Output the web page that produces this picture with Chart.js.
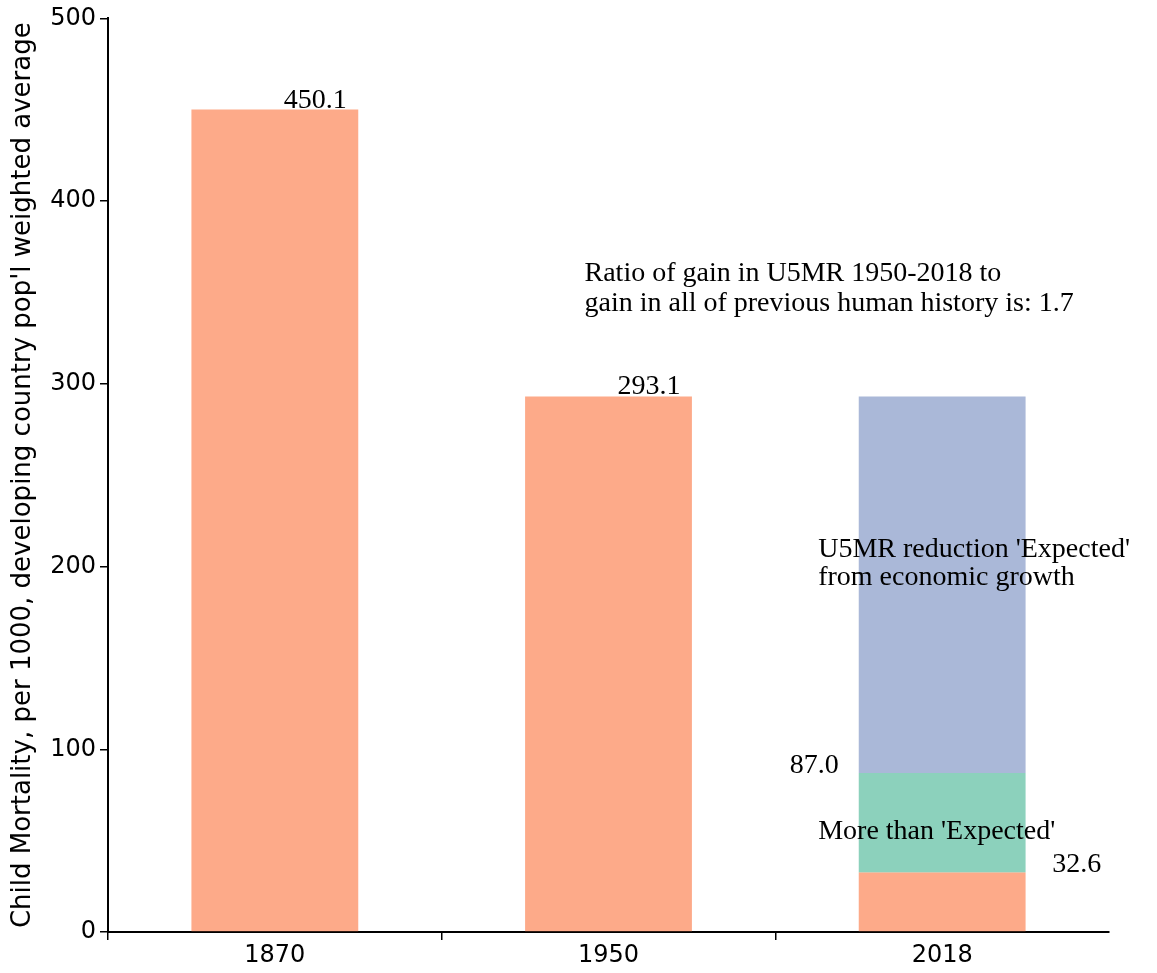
<!DOCTYPE html>
<html>
<head>
<meta charset="utf-8">
<script src="https://cdn.jsdelivr.net/npm/chart.js@4"></script>
<style>
  html, body { margin: 0; padding: 0; background: #fff; }
  #wrap { width: 1157px; height: 973px; }
</style>
</head>
<body>
<div id="wrap"><canvas id="chart"></canvas></div>
<script>
// Data
const years = ['1870', '1950', '2018'];
const actual = [450.1, 293.1, 32.6];          // orange bars (2018 = achieved level)
const expectedLevel2018 = 87.0;                // top of the green segment
const start2018 = 293.1;                       // top of the blue segment (1950 level)
const yTicks = [0, 100, 200, 300, 400, 500];
const ratioText = ['Ratio of gain in U5MR 1950-2018 to', 'gain in all of previous human history is: 1.7'];
const expectedText = ["U5MR reduction 'Expected'", 'from economic growth'];
const moreText = "More than 'Expected'";

const ORANGE = 'rgba(252, 141, 98, 0.75)';
const GREEN = 'rgba(102, 194, 165, 0.75)';
const BLUE = 'rgba(141, 160, 203, 0.75)';
const SERIF = '"Liberation Serif", "Times New Roman", serif';
const SANS = '"DejaVu Sans", Verdana, sans-serif';

// floating segments for the 2018 column
const greenData = [null, null, [actual[2], expectedLevel2018]];
const blueData = [null, null, [expectedLevel2018, start2018]];

const annotations = {
  id: 'annotations',
  afterDatasetsDraw(chart) {
    const { ctx, scales: { x, y } } = chart;
    const half = x.getPixelForValue(1) - x.getPixelForValue(0);
    ctx.save();
    ctx.fillStyle = '#000';
    ctx.font = '28px ' + SERIF;
    ctx.textBaseline = 'alphabetic';

    // value labels
    ctx.textAlign = 'left';
    ctx.fillText(actual[0].toFixed(1), x.getPixelForValue(0) + 9, y.getPixelForValue(actual[0]) - 2);
    ctx.fillText(actual[1].toFixed(1), x.getPixelForValue(1) + 9, y.getPixelForValue(actual[1]) - 2);
    ctx.textAlign = 'right';
    ctx.fillText(expectedLevel2018.toFixed(1), x.getPixelForValue(2) - half * 0.31, y.getPixelForValue(expectedLevel2018));
    ctx.textAlign = 'left';
    ctx.fillText(actual[2].toFixed(1), x.getPixelForValue(2) + half * 0.33, y.getPixelForValue(actual[2]));

    // text notes
    const xr = x.getPixelForValue(1) - 24;
    ctx.fillText(ratioText[0], xr, y.getPixelForValue(361) + 9);
    ctx.fillText(ratioText[1], xr, y.getPixelForValue(361) + 39);

    const xe = x.getPixelForValue(2) - 124;
    ctx.fillText(expectedText[0], xe, y.getPixelForValue(210) + 9);
    ctx.fillText(expectedText[1], xe, y.getPixelForValue(210) + 37);
    ctx.fillText(moreText, xe, y.getPixelForValue(56) + 9);
    ctx.restore();
  }
};

new Chart(document.getElementById('chart'), {
  type: 'bar',
  data: {
    labels: years,
    datasets: [
      { label: 'Actual', data: actual, backgroundColor: ORANGE },
      { label: "More than 'Expected'", data: greenData, backgroundColor: GREEN },
      { label: "'Expected'", data: blueData, backgroundColor: BLUE }
    ]
  },
  options: {
    responsive: true,
    maintainAspectRatio: false,
    animation: false,
    layout: { padding: { top: 18, right: 48, left: 0, bottom: 0 } },
    datasets: { bar: { categoryPercentage: 1, barPercentage: 0.5 } },
    plugins: {
      legend: { display: false },
      tooltip: { enabled: false }
    },
    scales: {
      x: {
        stacked: true,
        offset: true,
        grid: {
          offset: true,
          drawOnChartArea: false,
          drawTicks: true,
          tickLength: 8,
          lineWidth: 1.5,
          // no tick mark at the right end of the axis
          color: c => (c.index === undefined ? 'rgba(0,0,0,0)' : '#000')
        },
        border: { display: true, color: '#000', width: 2 },
        ticks: { color: '#000', font: { family: SANS, size: 24 }, padding: 1 },
        afterFit(scale) { scale.height = 41; }
      },
      y: {
        stacked: false,
        min: 0,
        max: 500,
        afterBuildTicks(scale) { scale.ticks = yTicks.map(v => ({ value: v })); },
        grid: { drawOnChartArea: false, drawTicks: true, tickLength: 8, color: '#000', lineWidth: 1.5 },
        border: { display: true, color: '#000', width: 2 },
        ticks: { color: '#000', font: { family: SANS, size: 24 }, padding: 4 },
        title: {
          display: true,
          text: "Child Mortality, per 1000, developing country pop'l weighted average",
          color: '#000',
          font: { family: SANS, size: 26 },
          padding: { top: 8, bottom: 0 }
        },
        afterFit(scale) { scale.width = 108; }
      }
    }
  },
  plugins: [annotations]
});
</script>
</body>
</html>
